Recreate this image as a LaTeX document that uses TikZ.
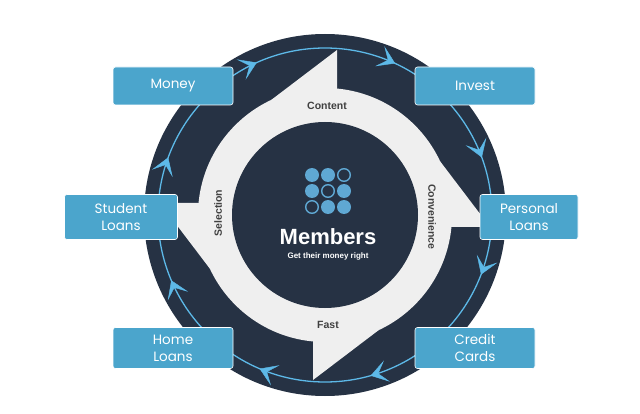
\documentclass[tikz,border=0pt]{standalone}
\usepackage{fontspec}
\setsansfont{Poppins}
\newfontfamily\headfont{Liberation Sans}
\usetikzlibrary{arrows.meta}
\usetikzlibrary{decorations.markings}
\definecolor{navy}{HTML}{263244}
\definecolor{ringgray}{HTML}{EFEFEF}
\definecolor{boxblue}{HTML}{4BA5CC}
\definecolor{lineblue}{HTML}{5DB9E8}
\definecolor{dotblue}{HTML}{5FA8D3}
\tikzset{ringTip/.style={decoration={markings,mark=at position #1 with {\arrow{Stealth[length=17pt,width=22pt,inset=9pt]}}}}}
\begin{document}
\begin{tikzpicture}[x=1pt,y=-1pt,
        blueBox/.style = {fill=boxblue,draw=white,line width=0.6pt,rounded corners=2.5pt,text=white,font=\sffamily\fontsize{13.5}{17}\selectfont,align=center,minimum height=38pt},
        ringLabel/.style = {text=black!75,font=\headfont\bfseries\fontsize{10.5}{12}\selectfont},
        dotFull/.style = {circle,fill=dotblue,minimum size=14pt,inner sep=0pt},
        dotOpen/.style = {circle,draw=dotblue,line width=1.4pt,minimum size=12.6pt,inner sep=0pt},
        ]
        \useasboundingbox (0,0) rectangle (640,414);
        \coordinate (hub) at (325,215);
        % outer disc and thin ring with arrows
        \fill[navy] (hub) circle (181);
        \draw[lineblue,line width=1.3pt] (hub) circle (167);
        \foreach \p in {0.058,0.206,0.314,0.436,0.556,0.683,0.819,0.944}
            \path[lineblue,postaction={decorate},ringTip=\p] (hub) circle (167);
        % gray ring with four barbs
        \fill[ringgray] (hub) circle (127);
        \foreach \r in {0,90,180,270}
            \fill[ringgray,shift={(hub)},rotate=\r] (12,-165) -- (12,-112) -- (-53.7,-112) -- (-53.7,-115.1) -- cycle;
        \fill[navy] (hub) circle (93);
        % logo
        \node[dotFull] (d11) at (312,175) {};
        \node[dotFull] (d12) at (328,175) {};
        \node[dotOpen] (d13) at (344,175) {};
        \node[dotFull] (d21) at (312,191) {};
        \node[dotOpen] (d22) at (328,191) {};
        \node[dotFull] (d23) at (344,191) {};
        \node[dotOpen] (d31) at (312,207) {};
        \node[dotFull] (d32) at (328,207) {};
        \node[dotFull] (d33) at (344,207) {};
        \node[text=white,font=\headfont\bfseries\fontsize{22}{23}\selectfont] (members) at (328,237) {Members};
        \node[text=white,font=\headfont\bfseries\fontsize{8}{9}\selectfont] (tagline) at (328,256) {Get their money right};
        % ring labels
        \node[ringLabel] (content) at (327,106) {Content};
        \node[ringLabel,rotate=-90] (convenience) at (432,217) {Convenience};
        \node[ringLabel] (fast) at (328,325) {Fast};
        \node[ringLabel,rotate=90] (selection) at (218,213) {Selection};
        % boxes
        \node[blueBox,minimum width=120pt] (money) at (173,86) {Money};
        \node[blueBox,minimum width=120pt] (invest) at (475,86) {Invest};
        \node[blueBox,minimum width=113pt,minimum height=45pt] (student) at (121,217) {Student\\Loans};
        \node[blueBox,minimum width=98pt,minimum height=45pt] (personal) at (529,217) {Personal\\Loans};
        \node[blueBox,minimum width=120pt,minimum height=41pt] (home) at (173,348) {Home\\Loans};
        \node[blueBox,minimum width=120pt,minimum height=41pt] (credit) at (475,348) {Credit\\Cards};
    \end{tikzpicture}
\end{document}
